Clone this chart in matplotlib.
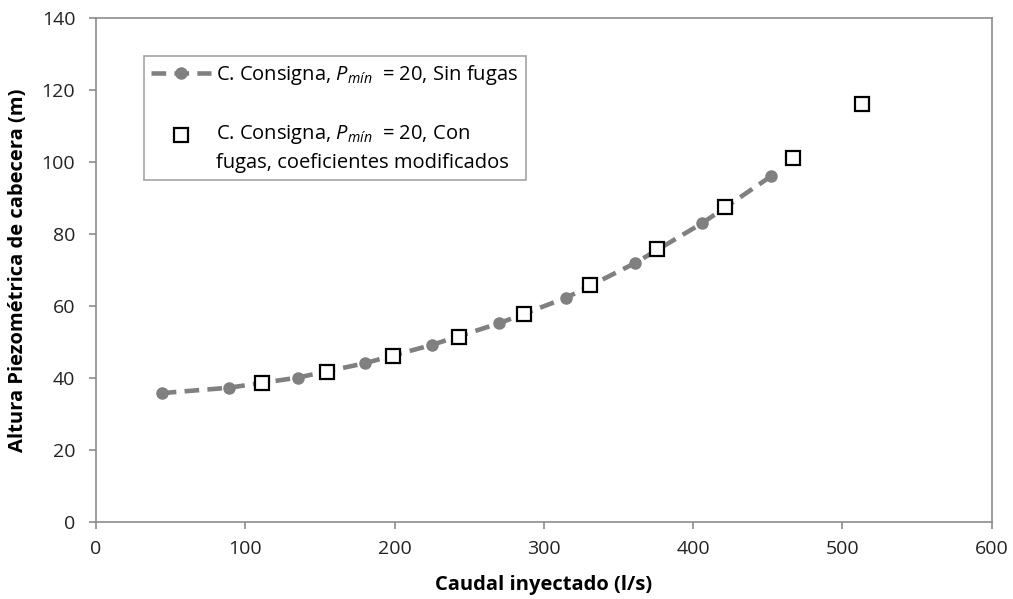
import matplotlib
matplotlib.use("Agg")
import matplotlib.pyplot as plt
from matplotlib.legend_handler import HandlerLine2D

plt.rcParams['font.family'] = ['Open Sans', 'DejaVu Sans']
plt.rcParams['mathtext.fontset'] = 'custom'
plt.rcParams['mathtext.it'] = 'Open Sans:italic'
plt.rcParams['mathtext.rm'] = 'Open Sans'

# Sin fugas
q_sin = [44, 89, 135, 180, 225, 270, 315, 361, 406, 452]
h_sin = [35.8, 37.3, 40.1, 44.1, 49.2, 55.2, 62.3, 71.9, 83.0, 96.0]

# Con fugas, coeficientes modificados
q_con = [111, 155, 199, 243, 287, 331, 376, 421, 467, 513]
h_con = [38.6, 41.8, 46.2, 51.4, 57.8, 65.7, 75.8, 87.6, 101.1, 116.2]

gray = '#808080'
axis_gray = '#8c8c8c'


class TopLineHandler(HandlerLine2D):
    # put the marker next to the first line of a two-line label
    shift = 10

    def create_artists(self, legend, orig_handle, xdescent, ydescent,
                       width, height, fontsize, trans):
        return super().create_artists(legend, orig_handle, xdescent,
                                      ydescent - 2 * self.shift, width, height,
                                      fontsize, trans)


fig = plt.figure(figsize=(10.13, 5.99), dpi=100)
ax = fig.add_axes([0.0948, 0.1285, 0.8842, 0.8415])

ln1, = ax.plot(q_sin, h_sin, color=gray, lw=3.3, dashes=(3.2, 1.8), marker='o',
               markersize=8, markerfacecolor=gray, markeredgecolor=gray,
               label=r'C. Consigna, $P_{mín}$  = 20, Sin fugas')
ln2, = ax.plot(q_con, h_con, ls='none', marker='s', markersize=10,
               markerfacecolor='white', markeredgecolor='black', markeredgewidth=1.6,
               label='C. Consigna, $P_{mín}$  = 20, Con\nfugas, coeficientes modificados')

ax.set_xlim(0, 600)
ax.set_ylim(0, 140)
ax.set_xticks(range(0, 601, 100))
ax.set_yticks(range(0, 141, 20))
ax.tick_params(labelsize=14, length=5, width=1.2, color=axis_gray, labelcolor='#222222')
ax.tick_params(axis='y', pad=10)
ax.tick_params(axis='x', pad=8)
for s in ax.spines.values():
    s.set_color(axis_gray)
    s.set_linewidth(1.2)

ax.set_xlabel('Caudal inyectado (l/s)', fontsize=14.5, fontweight='bold', labelpad=12)
ax.set_ylabel('Altura Piezométrica de cabecera (m)', fontsize=14.5, fontweight='bold', labelpad=10)

leg = ax.legend(handles=[ln1, ln2], loc='upper left', bbox_to_anchor=(0.0535, 0.925),
                borderaxespad=0, fontsize=14.5, frameon=True, fancybox=False,
                edgecolor=axis_gray, handlelength=3.0, handletextpad=0.25,
                labelspacing=1.8, borderpad=0.35,
                handler_map={ln2: TopLineHandler()})
leg.get_frame().set_linewidth(1.2)
for t in leg.get_texts():
    t.set_linespacing(1.48)

fig.savefig('out.png', dpi=100)
